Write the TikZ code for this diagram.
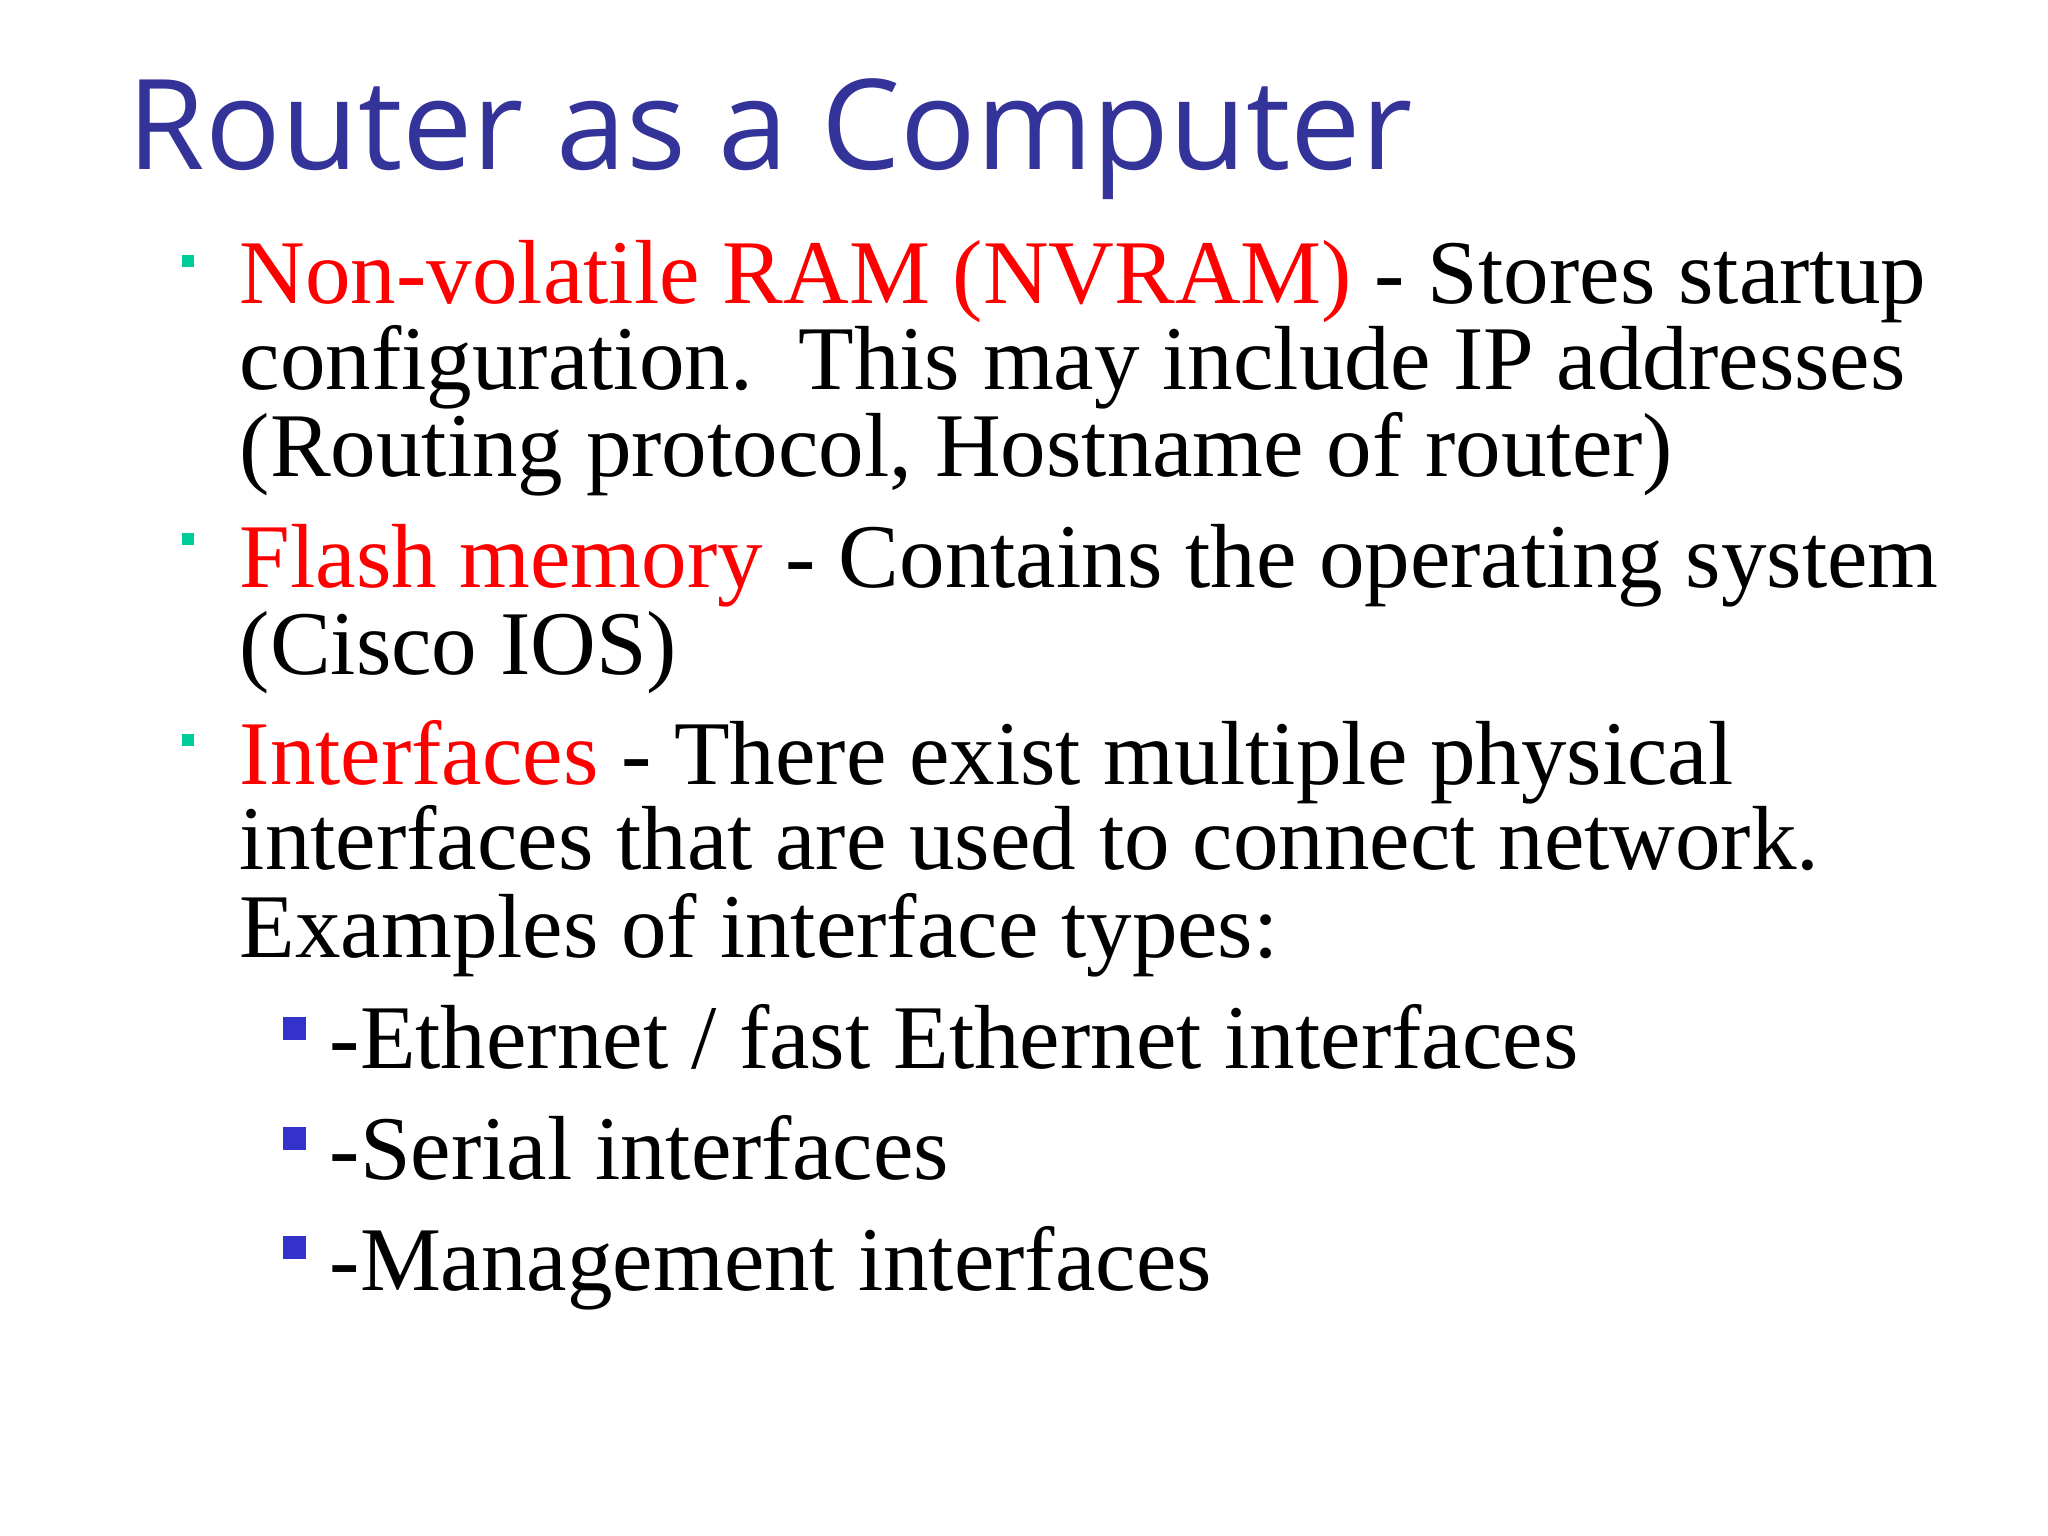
\documentclass[tikz,border=0pt]{standalone}
\usepackage{fontspec}
\setmainfont{Liberation Serif}
\newfontfamily\titlefont{Open Sans}
\usepackage{xcolor}
\definecolor{titleblue}{RGB}{51,51,153}
\definecolor{nvred}{RGB}{255,0,0}
\definecolor{teal1}{RGB}{0,204,153}
\definecolor{subblue}{RGB}{51,51,204}
\begin{document}
\begin{tikzpicture}[
    txt/.style={anchor=base west, inner sep=0pt, font=\fontsize{25.9}{30}\selectfont},
    dot/.style={fill=teal1, minimum size=0.12cm, inner sep=0pt},
    subdot/.style={fill=subblue, minimum size=0.23cm, inner sep=0pt}]
    %FRAME
    \useasboundingbox (0,0) rectangle (20.48,-15.36);

    %TITLE
    \node[anchor=base west, inner sep=0pt, text=titleblue, font=\titlefont\fontsize{35.7}{40}\selectfont] (title) at (1.27,-1.70) {Router as a Computer};

    %BULLETS
    \node[dot] (b1) at (1.88,-2.61) {};
    \node[dot] (b2) at (1.88,-5.39) {};
    \node[dot] (b3) at (1.88,-7.40) {};
    \node[subdot] (s1) at (2.94,-10.28) {};
    \node[subdot] (s2) at (2.94,-11.38) {};
    \node[subdot] (s3) at (2.94,-12.47) {};

    %TEXT
    \node[txt] (l1) at (2.39,-3.04) {\textcolor{nvred}{Non-volatile RAM (NVRAM)} - Stores startup};
    \node[txt] (l2) at (2.39,-3.90) {configuration.\ \ This may include IP addresses};
    \node[txt] (l3) at (2.39,-4.77) {(Routing protocol, Hostname of router)};
    \node[txt] (l4) at (2.39,-5.88) {\textcolor{nvred}{Flash memory} - Contains the operating system};
    \node[txt] (l5) at (2.39,-6.74) {(Cisco IOS)};
    \node[txt] (l6) at (2.39,-7.84) {\textcolor{nvred}{Interfaces} - There exist multiple physical};
    \node[txt] (l7) at (2.39,-8.70) {interfaces that are used to connect network.};
    \node[txt] (l8) at (2.39,-9.57) {Examples of interface types:};
    \node[txt] (t1) at (3.29,-10.68) {-Ethernet / fast Ethernet interfaces};
    \node[txt] (t2) at (3.29,-11.79) {-Serial interfaces};
    \node[txt] (t3) at (3.29,-12.90) {-Management interfaces};
\end{tikzpicture}
\end{document}
